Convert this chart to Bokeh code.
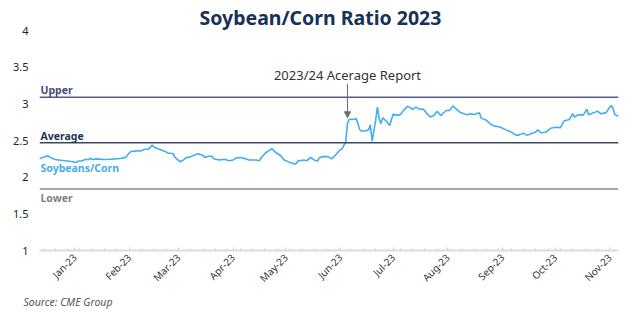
import math

import pandas as pd
from bokeh.plotting import figure
from bokeh.models import (Range1d, Label, Arrow, NormalHead, Span, FixedTicker, Title,
                          DatetimeTickFormatter, NumeralTickFormatter, ColumnDataSource)
from bokeh.embed import file_html
from bokeh.resources import INLINE

# Soybean / corn price ratio, daily closes
dates = [
    "2022-12-12", "2022-12-15", "2022-12-17", "2022-12-18", "2022-12-21", "2022-12-24",
    "2022-12-28", "2022-12-31", "2023-01-02", "2023-01-03", "2023-01-05", "2023-01-07",
    "2023-01-09", "2023-01-10", "2023-01-11", "2023-01-14", "2023-01-17", "2023-01-21",
    "2023-01-27", "2023-01-30", "2023-02-01", "2023-02-02", "2023-02-05", "2023-02-06",
    "2023-02-07", "2023-02-10", "2023-02-12", "2023-02-14", "2023-02-15", "2023-02-18",
    "2023-02-21", "2023-02-23", "2023-02-26", "2023-02-27", "2023-03-01", "2023-03-02",
    "2023-03-04", "2023-03-05", "2023-03-08", "2023-03-12", "2023-03-15", "2023-03-16",
    "2023-03-18", "2023-03-20", "2023-03-21", "2023-03-24", "2023-03-27", "2023-03-30",
    "2023-04-01", "2023-04-03", "2023-04-06", "2023-04-08", "2023-04-10", "2023-04-14",
    "2023-04-16", "2023-04-17", "2023-04-19", "2023-04-20", "2023-04-21", "2023-04-23",
    "2023-04-25", "2023-04-28", "2023-04-30", "2023-05-03", "2023-05-06", "2023-05-07",
    "2023-05-08", "2023-05-09", "2023-05-11", "2023-05-13", "2023-05-15", "2023-05-17",
    "2023-05-19", "2023-05-20", "2023-05-22", "2023-05-25", "2023-05-27", "2023-05-29",
    "2023-05-31", "2023-06-02", "2023-06-04", "2023-06-05", "2023-06-06", "2023-06-09",
    "2023-06-10", "2023-06-12", "2023-06-13", "2023-06-15", "2023-06-17", "2023-06-18",
    "2023-06-19", "2023-06-21", "2023-06-22", "2023-06-23", "2023-06-24", "2023-06-25",
    "2023-06-27", "2023-06-28", "2023-06-29", "2023-07-01", "2023-07-02", "2023-07-03",
    "2023-07-05", "2023-07-06", "2023-07-09", "2023-07-11", "2023-07-12", "2023-07-14",
    "2023-07-16", "2023-07-18", "2023-07-20", "2023-07-22", "2023-07-24", "2023-07-26",
    "2023-07-28", "2023-07-30", "2023-07-31", "2023-08-02", "2023-08-04", "2023-08-06",
    "2023-08-08", "2023-08-10", "2023-08-12", "2023-08-14", "2023-08-16", "2023-08-19",
    "2023-08-20", "2023-08-23", "2023-08-25", "2023-08-27", "2023-08-31", "2023-09-03",
    "2023-09-06", "2023-09-09", "2023-09-11", "2023-09-13", "2023-09-15", "2023-09-17",
    "2023-09-20", "2023-09-21", "2023-09-23", "2023-09-26", "2023-09-28", "2023-09-29",
    "2023-10-01", "2023-10-04", "2023-10-06", "2023-10-09", "2023-10-11", "2023-10-12",
    "2023-10-14", "2023-10-17", "2023-10-19", "2023-10-20", "2023-10-23", "2023-10-25",
    "2023-10-27", "2023-10-30", "2023-11-01", "2023-11-02", "2023-11-03", "2023-11-04",
    "2023-11-06",
]
ratio = [
    2.25, 2.28, 2.29, 2.27, 2.24, 2.23,
    2.22, 2.21, 2.20, 2.22, 2.22, 2.24,
    2.24, 2.26, 2.24, 2.25, 2.24, 2.245,
    2.255, 2.27, 2.33, 2.35, 2.355, 2.365,
    2.355, 2.38, 2.38, 2.44, 2.41, 2.38,
    2.355, 2.33, 2.32, 2.27, 2.23, 2.21,
    2.24, 2.26, 2.28, 2.32, 2.295, 2.27,
    2.285, 2.285, 2.25, 2.235, 2.245, 2.225,
    2.235, 2.265, 2.265, 2.25, 2.235, 2.235,
    2.225, 2.265, 2.32, 2.34, 2.355, 2.39,
    2.34, 2.295, 2.235, 2.205, 2.18, 2.19,
    2.225, 2.225, 2.235, 2.225, 2.27, 2.235,
    2.22, 2.265, 2.28, 2.28, 2.25, 2.295,
    2.355, 2.39, 2.48, 2.73, 2.79, 2.79,
    2.80, 2.645, 2.63, 2.63, 2.645, 2.715,
    2.49, 2.775, 2.955, 2.795, 2.73, 2.81,
    2.765, 2.735, 2.705, 2.865, 2.84, 2.85,
    2.85, 2.885, 2.965, 2.945, 2.925, 2.955,
    2.925, 2.93, 2.87, 2.82, 2.84, 2.90,
    2.84, 2.885, 2.91, 2.91, 2.97, 2.925,
    2.885, 2.865, 2.85, 2.865, 2.855, 2.88,
    2.805, 2.775, 2.73, 2.70, 2.68, 2.645,
    2.615, 2.57, 2.58, 2.60, 2.57, 2.59,
    2.615, 2.645, 2.605, 2.615, 2.66, 2.67,
    2.68, 2.675, 2.765, 2.785, 2.865, 2.82,
    2.85, 2.85, 2.925, 2.85, 2.88, 2.90,
    2.865, 2.88, 2.955, 2.975, 2.93, 2.85,
    2.83,
]

# Reference bands
upper_band = 3.09
average_band = 2.47
lower_band = 1.84

y_ticks = [1, 1.5, 2, 2.5, 3, 3.5, 4]
month_ticks = pd.date_range("2023-01-01", "2023-11-01", freq="MS")
week_ticks = pd.date_range("2022-12-14", "2023-11-06", freq="7D")

report_date = "2023-06-05"
report_text = "2023/24 Acerage Report"

FONT = "Noto Sans"
NAVY = "#173255"

src = ColumnDataSource(dict(date=pd.to_datetime(dates), ratio=ratio))

p = figure(
    width=640, height=320,
    x_axis_type="datetime",
    x_range=Range1d(pd.Timestamp("2022-12-12"), pd.Timestamp("2023-11-06")),
    y_range=Range1d(1, 4),
    output_backend="svg", toolbar_location=None,
    min_border_left=39, min_border_right=22, min_border_top=30, min_border_bottom=70,
    background_fill_color="white", border_fill_color="white",
)
p.outline_line_color = None
p.grid.visible = False

# title above, source note below the axis
p.add_layout(Title(text="Soybean/Corn Ratio 2023", align="left", offset=160,
                   text_font=FONT, text_font_size="19.5px", text_font_style="bold",
                   text_color=NAVY, standoff=0), "above")
p.add_layout(Title(text="Source: CME Group", align="left", offset=-16,
                   text_font=FONT, text_font_size="10.5px", text_font_style="italic",
                   text_color="#555555", standoff=0), "below")

# band lines
p.add_layout(Span(location=upper_band, dimension="width", line_color="#57598f", line_width=1.5))
p.add_layout(Span(location=average_band, dimension="width", line_color="#3a4864", line_width=1.5))
p.add_layout(Span(location=lower_band, dimension="width", line_color="#8a8a8a", line_width=1.5))

p.line("date", "ratio", source=src, line_color="#42adef", line_width=1.6)

start = pd.Timestamp("2022-12-12")
p.add_layout(Label(x=start, y=upper_band, text="Upper", text_baseline="bottom",
                   text_font=FONT, text_font_size="10.5px", text_font_style="bold",
                   text_color="#414b7e", x_offset=1))
p.add_layout(Label(x=start, y=average_band, text="Average", text_baseline="bottom",
                   text_font=FONT, text_font_size="10.5px", text_font_style="bold",
                   text_color="#1f3556", x_offset=1))
p.add_layout(Label(x=start, y=2.13, text="Soybeans/Corn", text_baseline="middle",
                   text_font=FONT, text_font_size="10.5px", text_font_style="bold",
                   text_color="#46aeea", x_offset=1))
p.add_layout(Label(x=start, y=lower_band, text="Lower", text_baseline="top",
                   text_font=FONT, text_font_size="10.5px", text_font_style="bold",
                   text_color="#7f7f7f", x_offset=1, y_offset=-2))

# acreage report callout
rd = pd.Timestamp(report_date)
p.add_layout(Label(x=rd, y=3.39, text=report_text, text_align="center",
                   text_baseline="middle", text_font=FONT, text_font_size="13px",
                   text_color="#333333"))
p.add_layout(Arrow(x_start=rd, y_start=3.27, x_end=rd, y_end=2.81,
                   line_color="#6e6e6e", line_width=1,
                   end=NormalHead(size=6, line_color="#6e6e6e", fill_color="#6e6e6e")))

# y axis
p.yaxis.ticker = FixedTicker(ticks=y_ticks)
p.yaxis.formatter = NumeralTickFormatter(format="0.[0]")
p.yaxis.axis_line_color = None
p.yaxis.major_tick_line_color = None
p.yaxis.minor_tick_line_color = None
p.yaxis.major_label_standoff = 5
p.yaxis.major_label_text_font = FONT
p.yaxis.major_label_text_font_size = "11px"
p.yaxis.major_label_text_color = "#222222"

# x axis
p.xaxis.ticker = FixedTicker(ticks=[t.value // 10**6 for t in month_ticks],
                             minor_ticks=[t.value // 10**6 for t in week_ticks])
p.xaxis.formatter = DatetimeTickFormatter(days="%b-%y", months="%b-%y", years="%b-%y")
p.xaxis.major_label_orientation = math.pi / 4
p.xaxis.axis_line_color = "#dcdcdc"
p.xaxis.axis_line_width = 2
p.xaxis.major_tick_line_color = "#cfcfcf"
p.xaxis.major_tick_in = 3
p.xaxis.major_tick_out = 0
p.xaxis.minor_tick_line_color = "#d6d6d6"
p.xaxis.minor_tick_in = 2
p.xaxis.minor_tick_out = 0
p.xaxis.major_label_standoff = 5
p.xaxis.major_label_text_font = FONT
p.xaxis.major_label_text_font_size = "10px"
p.xaxis.major_label_text_color = "#333333"

open("out.html", "w").write(file_html(p, INLINE))
